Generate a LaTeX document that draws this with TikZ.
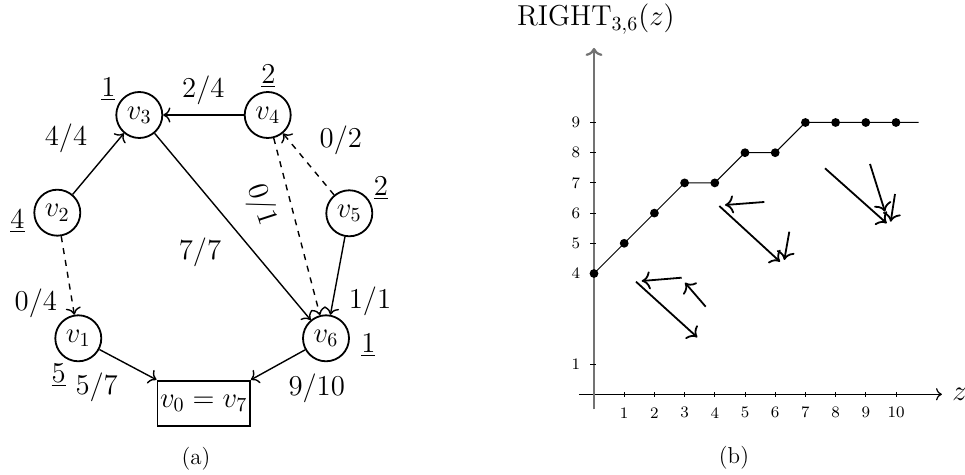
\documentclass[tikz,border=0pt]{standalone}
\usetikzlibrary{arrows.meta}
\begin{document}
\begin{tikzpicture}[x=0.5pt,y=-0.5pt,
  vertex/.style={circle,draw,line width=0.9pt,minimum size=23pt,inner sep=0pt,font=\Large},
  sinkbox/.style={rectangle,draw,line width=0.9pt,minimum width=46.3pt,minimum height=22.5pt,inner sep=0.5pt,font=\Large},
  lab/.style={font=\Large,inner sep=0pt},
  gedge/.style={-{To[scale=1.15]},line width=0.7pt},
  dedge/.style={gedge,dashed},
  captext/.style={font=\fontsize{11.5}{13}\selectfont,inner sep=0pt},
  ticklab/.style={font=\footnotesize,inner sep=0pt},
  parrow/.style={-{To[scale=1.2]},line width=0.9pt}
]
\useasboundingbox (0,0) rectangle (965,475);

% ---------- (a) graph ----------
\node[vertex] (v3) at (139.3,115) {$v_3$};
\node[vertex] (v4) at (267.7,115) {$v_4$};
\node[vertex] (v2) at (57.3,212.7) {$v_2$};
\node[vertex] (v5) at (349.3,213.3) {$v_5$};
\node[vertex] (v1) at (78.3,338.3) {$v_1$};
\node[vertex] (v6) at (326,338.3) {$v_6$};
\node[sinkbox] (v0) at (203.7,403.2) {$v_0=v_7$};

\draw[gedge] (v2) -- (v3);
\draw[gedge] (v4) -- (v3);
\draw[gedge] (v3) -- (v6);
\draw[dedge] (v4) -- (v6);
\draw[dedge] (v5) -- (v4);
\draw[gedge] (v5) -- (v6);
\draw[dedge] (v2) -- (v1);
\draw[gedge] (v1) -- (v0.north west);
\draw[gedge] (v6) -- (v0.north east);

% potentials
\node[lab] (p3) at (108.3,89) {$\underline{1}$};
\node[lab] (p4) at (268.3,76) {$\underline{2}$};
\node[lab] (p2) at (17.5,221) {$\underline{4}$};
\node[lab] (p5) at (381,188.3) {$\underline{2}$};
\node[lab] (p1) at (58.7,375) {$\underline{5}$};
\node[lab] (p6) at (368.3,345) {$\underline{1}$};

% edge labels
\node[lab] (e23) at (66,138) {$4/4$};
\node[lab] (e43) at (203.3,90) {$2/4$};
\node[lab] (e36) at (200,252) {$7/7$};
\node[lab,rotate=-72] (e46) at (261,205) {$0/1$};
\node[lab] (e54) at (340.8,140.7) {$0/2$};
\node[lab] (e56) at (370,301.7) {$1/1$};
\node[lab] (e21) at (35.8,303) {$0/4$};
\node[lab] (e10) at (96.7,387.5) {$5/7$};
\node[lab] (e60) at (316.7,388) {$9/10$};

\node[captext] (capa) at (196,458.3) {(a)};

% ---------- (b) plot ----------
\begin{scope}[shift={(594,394.3)},x=15.1pt,y=15.1pt]
  \draw[->,line width=0.6pt] (-0.5,0) -- (11.52,0);
  \draw[->,gray!90!black,line width=1.1pt] (0,-0.5) -- (0,11.47);
  \foreach \i in {1,...,10} {
    \draw[line width=0.5pt] (\i,-0.08) -- (\i,0.08);
    \node[ticklab] at (\i,-0.61) {\i};
  }
  \foreach \j in {1,4,5,6,7,8,9} {
    \draw[line width=0.5pt] (-0.12,\j) -- (0.05,\j);
    \node[ticklab] at (-0.6,\j) {\j};
  }
  \draw[line width=0.5pt] (0,4) -- (1,5) -- (2,6) -- (3,7) -- (4,7) -- (5,8) -- (6,8) -- (7,9) -- (10.75,9);
  \foreach \p in {(0,4),(1,5),(2,6),(3,7),(4,7),(5,8),(6,8),(7,9),(8,9),(9,9),(10,9)}
    \fill \p circle (2.2pt);
\end{scope}

\node[anchor=base east,font=\Large,inner sep=0pt] (ylab) at (675,26) {RIGHT$_{3,6}(z)$};
\node[anchor=base west,font=\Large,inner sep=0pt] (xlab) at (952,401) {$z$};

\draw[parrow] (764.3,202) -- (725,205);
\draw[parrow] (719.3,206) -- (780,261.7);
\draw[parrow] (789.3,231.7) -- (784.3,260);
\draw[parrow] (825,168.3) -- (886.7,223.3);
\draw[parrow] (870,164) -- (885,211.7);
\draw[parrow] (895,194) -- (890.7,221.7);
\draw[parrow] (681.7,277.7) -- (641.7,281);
\draw[parrow] (705.7,306.7) -- (685,282.7);
\draw[parrow] (636,281.7) -- (697.3,337.3);

\node[captext] (capb) at (734,458) {(b)};
\end{tikzpicture}
\end{document}
